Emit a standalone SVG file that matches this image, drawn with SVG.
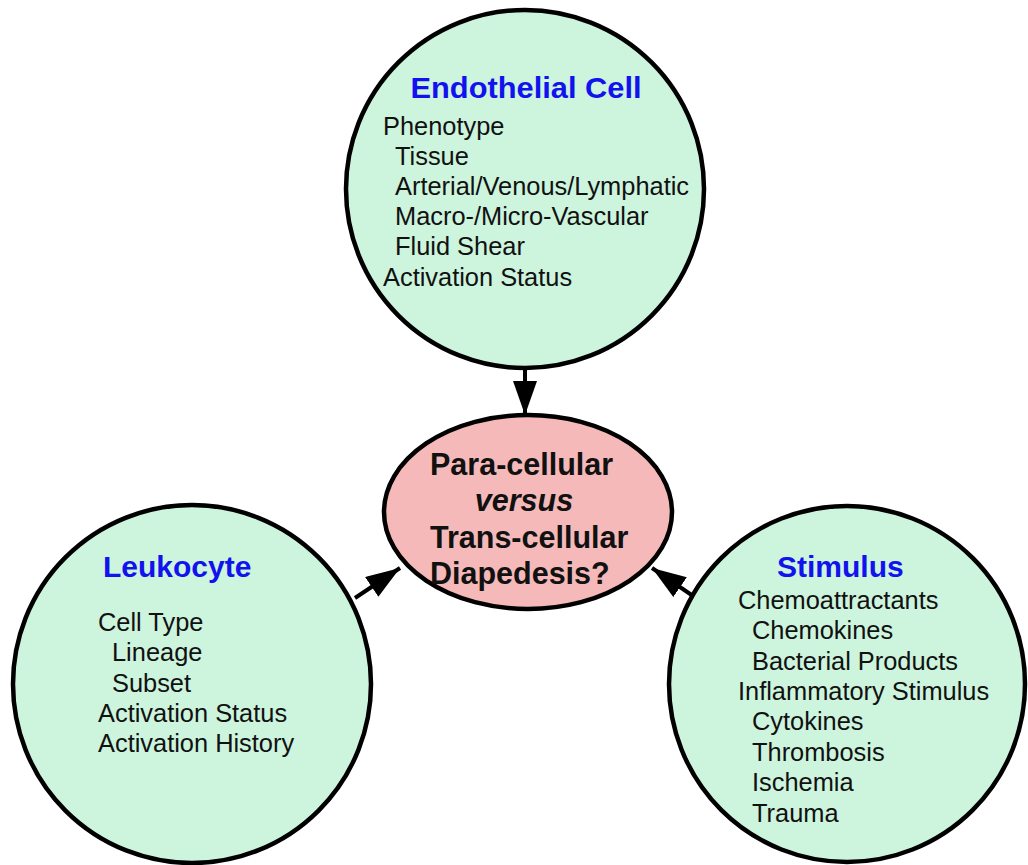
<svg xmlns="http://www.w3.org/2000/svg" width="1028" height="865" viewBox="0 0 1028 865">
<style>
.cell{fill:#cdf4dd;stroke:#000;stroke-width:4.5}
.hub{fill:#f5b9b9;stroke:#000;stroke-width:4.5}
.title{font-family:"Liberation Sans",Arial,sans-serif;font-weight:bold;font-size:30px;fill:#1212ee}
.body{font-family:"Liberation Sans",Arial,sans-serif;font-size:25.4px;fill:#111}
.hubt{font-family:"Liberation Sans",Arial,sans-serif;font-weight:bold;font-size:30.5px;fill:#111}
.conn{stroke:#000;stroke-width:4;fill:none;marker-end:url(#ah)}
</style>
<defs>
<marker id="ah" markerUnits="userSpaceOnUse" markerWidth="34" markerHeight="24" refX="34" refY="12" orient="auto">
<path d="M0,0 L34,12 L0,24 z" fill="#000"/>
</marker>
</defs>
<rect width="1028" height="865" fill="#fff"/>
<g id="connectors">
<line class="conn" x1="525" y1="367" x2="525" y2="415"/>
<line class="conn" x1="355" y1="598" x2="400" y2="568"/>
<line class="conn" x1="696" y1="598" x2="652" y2="568"/>
</g>
<g id="endothelial">
<circle class="cell" cx="525" cy="189" r="179"/>
<text class="title" x="526" y="98" text-anchor="middle" textLength="231" lengthAdjust="spacingAndGlyphs">Endothelial Cell</text>
<text class="body" x="383" y="135">Phenotype</text>
<text class="body" x="395" y="165">Tissue</text>
<text class="body" x="395" y="195">Arterial/Venous/Lymphatic</text>
<text class="body" x="395" y="225">Macro-/Micro-Vascular</text>
<text class="body" x="395" y="255">Fluid Shear</text>
<text class="body" x="383" y="286">Activation Status</text>
</g>
<g id="diapedesis">
<ellipse class="hub" cx="528" cy="512" rx="144" ry="97"/>
<text class="hubt" x="430" y="475">Para-cellular</text>
<text class="hubt" x="524" y="511" text-anchor="middle" font-style="italic">versus</text>
<text class="hubt" x="430" y="548">Trans-cellular</text>
<text class="hubt" x="430" y="584">Diapedesis?</text>
</g>
<g id="leukocyte">
<circle class="cell" cx="192" cy="684" r="179"/>
<text class="title" x="103" y="577">Leukocyte</text>
<text class="body" x="98" y="631">Cell Type</text>
<text class="body" x="112" y="661">Lineage</text>
<text class="body" x="112" y="692">Subset</text>
<text class="body" x="98" y="722">Activation Status</text>
<text class="body" x="98" y="752">Activation History</text>
</g>
<g id="stimulus">
<circle class="cell" cx="847" cy="684" r="178"/>
<text class="title" x="777" y="577">Stimulus</text>
<text class="body" x="738" y="609">Chemoattractants</text>
<text class="body" x="752" y="639">Chemokines</text>
<text class="body" x="752" y="670">Bacterial Products</text>
<text class="body" x="738" y="700">Inflammatory Stimulus</text>
<text class="body" x="752" y="730">Cytokines</text>
<text class="body" x="752" y="761">Thrombosis</text>
<text class="body" x="752" y="791">Ischemia</text>
<text class="body" x="752" y="822">Trauma</text>
</g>
</svg>
